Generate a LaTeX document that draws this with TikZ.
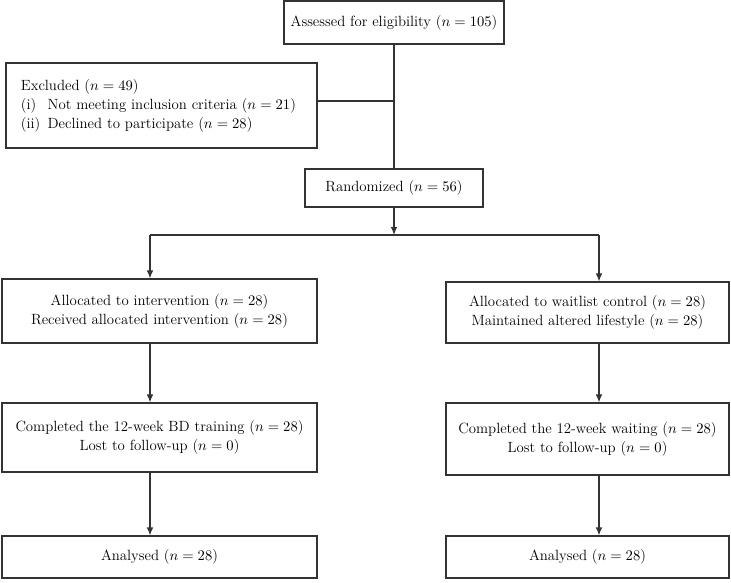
\documentclass[tikz,border=0pt]{standalone}
\usetikzlibrary{arrows.meta,positioning}
\begin{document}
\begin{tikzpicture}[x=0.75pt,y=-0.75pt,
  box/.style={draw=black!80, line width=0.9pt, inner sep=0pt, align=center, font=\fontsize{11.1}{14.25}\selectfont},
  link/.style={draw=black!80, line width=0.9pt},
  arr/.style={link, -{Latex[length=6pt,width=5pt]}}]

\useasboundingbox (0,0) rectangle (731,582);

% --- Screening ---
\node[box, minimum width=165pt, minimum height=32.25pt] (assess) at (394,22.5) {Assessed for eligibility ($n=105$)};
\node[box, align=left, text width=210.75pt, inner xsep=11.25pt, minimum height=63.75pt] (excl) at (161.5,105.5)
  {Excluded ($n=49$)\\ \makebox[20pt][l]{(i)}Not meeting inclusion criteria ($n=21$)\\ \makebox[20pt][l]{(ii)}Declined to participate ($n=28$)};
\node[box, minimum width=133.5pt, minimum height=28.5pt] (rand) at (394,188) {Randomized ($n=56$)};

% --- Allocation ---
\node[box, minimum width=236.25pt, minimum height=48pt] (lalloc) at (159.5,311)
  {Allocated to intervention ($n=28$)\\ Received allocated intervention ($n=28$)};
\node[box, minimum width=212.25pt, minimum height=45.75pt] (ralloc) at (587.5,312.5)
  {Allocated to waitlist control ($n=28$)\\ Maintained altered lifestyle ($n=28$)};

% --- Follow-up ---
\node[box, minimum width=236.25pt, minimum height=51.75pt] (lcomp) at (159.5,437.5)
  {Completed the 12-week BD training ($n=28$)\\ Lost to follow-up ($n=0$)};
\node[box, minimum width=212.25pt, minimum height=54pt] (rcomp) at (587.5,439)
  {Completed the 12-week waiting ($n=28$)\\ Lost to follow-up ($n=0$)};

% --- Analysis ---
\node[box, minimum width=236.25pt, minimum height=31.5pt] (lana) at (159.5,557) {Analysed ($n=28$)};
\node[box, minimum width=212.25pt, minimum height=31.5pt] (rana) at (587.5,557) {Analysed ($n=28$)};

% Connectors
\coordinate (split) at (394,235);
\coordinate (lcol) at (150,235);
\coordinate (rcol) at (599,235);

\draw[link] (assess) -- (rand);
\draw[link] ([yshift=3.4pt]excl.east) -- ([yshift=3.4pt]excl.east -| assess);
\draw[arr] (rand) -- (split);
\draw[link] (lcol) -- (rcol);
\draw[arr] (lcol) -- (lalloc.north -| lcol);
\draw[arr] (rcol) -- (ralloc.north -| rcol);
\draw[arr] (lalloc.south -| lcol) -- (lcomp.north -| lcol);
\draw[arr] (ralloc.south -| rcol) -- (rcomp.north -| rcol);
\draw[arr] (lcomp.south -| lcol) -- (lana.north -| lcol);
\draw[arr] (rcomp.south -| rcol) -- (rana.north -| rcol);

\end{tikzpicture}
\end{document}
